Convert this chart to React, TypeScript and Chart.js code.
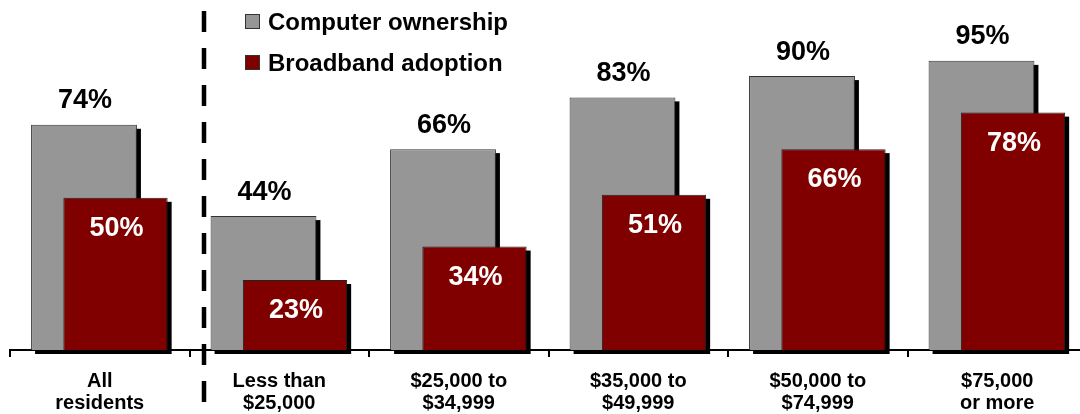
import React, { useEffect, useRef } from 'react';
import { Chart, registerables } from 'chart.js';

Chart.register(...registerables);

const categories: string[][] = [
  ['All', 'residents'],
  ['Less than', '$25,000'],
  ['$25,000 to', '$34,999'],
  ['$35,000 to', '$49,999'],
  ['$50,000 to', '$74,999'],
  ['$75,000', 'or more'],
];
const seriesNames = ['Computer ownership', 'Broadband adoption'];
const computerOwnership = [74, 44, 66, 83, 90, 95];
const broadbandAdoption = [50, 23, 34, 51, 66, 78];

const GRAY = '#969696';
const RED = '#800000';
const FONT = "'Liberation Sans', Arial, sans-serif";

export default function App() {
  const ref = useRef<HTMLCanvasElement>(null);

  useEffect(() => {
    const canvas = ref.current;
    if (!canvas) return;

    const drawShadows = (ctx: CanvasRenderingContext2D, meta: any) => {
      ctx.save();
      ctx.fillStyle = '#000000';
      meta.data.forEach((el: any) => {
        const p = el.getProps(['x', 'y', 'base', 'width'], true);
        const left = p.x - p.width / 2;
        ctx.fillRect(left + 4, p.y + 4, p.width, p.base - p.y);
      });
      ctx.restore();
    };

    const overlay = {
      id: 'overlay',
      beforeDatasetDraw(chart: any, args: any) {
        if (args.index === 1) return false;
        drawShadows(chart.ctx, args.meta);
        return true;
      },
      afterDatasetsDraw(chart: any) {
        const ctx: CanvasRenderingContext2D = chart.ctx;
        const m0 = chart.getDatasetMeta(0);
        const m1 = chart.getDatasetMeta(1);
        drawShadows(ctx, m1);
        m1.controller.draw();

        ctx.save();
        ctx.font = `bold 27px ${FONT}`;
        ctx.textAlign = 'center';
        ctx.textBaseline = 'alphabetic';
        ctx.fillStyle = '#000000';
        m0.data.forEach((el: any, i: number) => {
          ctx.fillText(`${computerOwnership[i]}%`, el.x + 1, el.y - 16.5);
        });
        ctx.fillStyle = '#ffffff';
        m1.data.forEach((el: any, i: number) => {
          ctx.fillText(`${broadbandAdoption[i]}%`, el.x + 1, el.y + 38);
        });
        ctx.restore();
      },
      afterDraw(chart: any) {
        const ctx: CanvasRenderingContext2D = chart.ctx;
        const xs = chart.scales.x;
        // dashed separator
        const xb = (xs.getPixelForValue(0) + xs.getPixelForValue(1)) / 2 + 14.5;
        ctx.save();
        ctx.strokeStyle = '#000000';
        ctx.lineWidth = 4.5;
        ctx.setLineDash([21, 16]);
        ctx.beginPath();
        ctx.moveTo(xb, 11);
        ctx.lineTo(xb, 414);
        ctx.stroke();
        ctx.restore();

        // legend
        ctx.save();
        const colors = [GRAY, RED];
        ctx.font = `bold 24px ${FONT}`;
        ctx.textAlign = 'left';
        ctx.textBaseline = 'alphabetic';
        seriesNames.forEach((name, i) => {
          const y = 14 + i * 41;
          ctx.fillStyle = colors[i];
          ctx.fillRect(245, y, 15, 15);
          ctx.strokeStyle = '#333333';
          ctx.lineWidth = 1;
          ctx.strokeRect(245.5, y + 0.5, 14, 14);
          ctx.fillStyle = '#000000';
          ctx.fillText(name, 268, y + 15.5);
        });
        ctx.restore();
      },
    };

    const chart = new Chart(canvas, {
      type: 'bar',
      data: {
        labels: categories,
        datasets: [
          {
            label: seriesNames[0],
            data: computerOwnership,
            backgroundColor: GRAY,
            borderColor: '#333333',
            borderWidth: 1,
            categoryPercentage: 0.351,
            barPercentage: 3.36,
            clip: false as any,
          },
          {
            label: seriesNames[1],
            data: broadbandAdoption,
            backgroundColor: RED,
            borderColor: '#222222',
            borderWidth: 1,
            categoryPercentage: 0.351,
            barPercentage: 3.31,
            clip: false as any,
          },
        ],
      },
      options: {
        responsive: false,
        maintainAspectRatio: false,
        devicePixelRatio: 1,
        animation: false,
        layout: { padding: { left: 10, right: 5, top: 0, bottom: 0 } },
        plugins: {
          legend: { display: false },
          tooltip: { enabled: false },
        },
        scales: {
          x: {
            type: 'category',
            offset: true,
            grid: {
              display: true,
              drawOnChartArea: false,
              drawTicks: true,
              tickLength: 7,
              color: '#000000',
              lineWidth: 2,
              offset: true,
            },
            border: { display: true, color: '#000000', width: 2 },
            ticks: {
              color: '#000000',
              font: { family: FONT, weight: 'bold', size: 20, lineHeight: 1.1 },
              padding: 13,
              maxRotation: 0,
              autoSkip: false,
            },
            afterFit: (s: any) => {
              s.height = 64;
            },
          },
          y: {
            display: false,
            min: 0,
            max: 115,
          },
        },
      },
      plugins: [overlay],
    } as any);

    return () => chart.destroy();
  }, []);

  return (
    <div
      style={{
        position: 'absolute',
        left: 0,
        top: 0,
        width: 1080,
        height: 414,
        overflow: 'hidden',
        background: '#ffffff',
      }}
    >
      <canvas
        ref={ref}
        width={1092}
        height={414}
        style={{ display: 'block', width: 1092, height: 414 }}
      />
    </div>
  );
}
